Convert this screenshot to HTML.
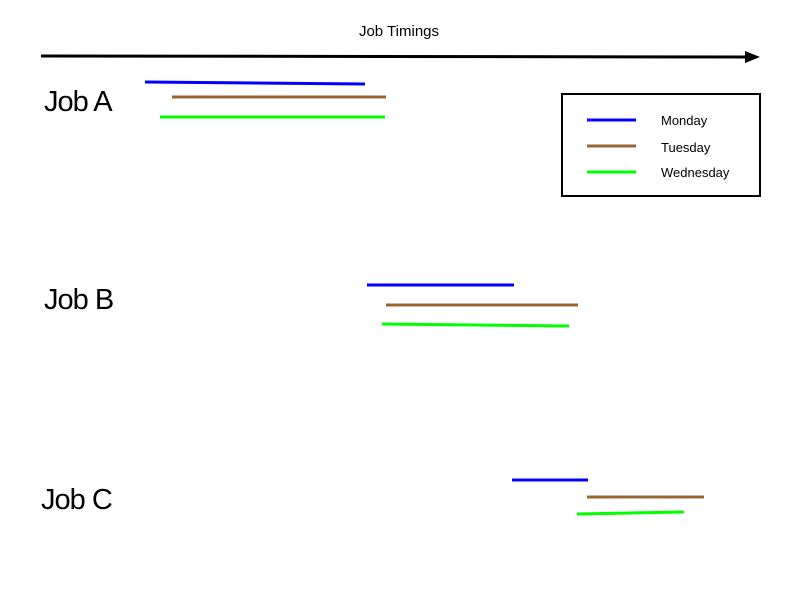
<!DOCTYPE html>
<html><head><style>body{margin:0;background:#fff}</style></head><body>
<svg width="800" height="600" xmlns="http://www.w3.org/2000/svg" font-family="'Liberation Sans', sans-serif">
<rect width="800" height="600" fill="#fff"/>
<text x="399" y="36" font-size="15" text-anchor="middle">Job Timings</text>
<line x1="41" y1="56" x2="748" y2="57" stroke="#000" stroke-width="3"/>
<polygon points="760,57 745,51 745,63" fill="#000"/>
<text x="44" y="111" font-size="29" letter-spacing="-1">Job A</text>
<text x="44" y="309" font-size="29" letter-spacing="-1">Job B</text>
<text x="41" y="509" font-size="29" letter-spacing="-1">Job C</text>
<g stroke-width="3">
<line x1="145" y1="82" x2="365" y2="84" stroke="#0000ff"/>
<line x1="172" y1="97" x2="386" y2="97" stroke="#996633"/>
<line x1="160" y1="117" x2="385" y2="117" stroke="#00ff00"/>
<line x1="367" y1="285" x2="514" y2="285" stroke="#0000ff"/>
<line x1="386" y1="305" x2="578" y2="305" stroke="#996633"/>
<line x1="382" y1="324" x2="569" y2="326" stroke="#00ff00"/>
<line x1="512" y1="480" x2="588" y2="480" stroke="#0000ff"/>
<line x1="587" y1="497" x2="704" y2="497" stroke="#996633"/>
<line x1="577" y1="514" x2="684" y2="512" stroke="#00ff00"/>
<line x1="587" y1="120" x2="636" y2="120" stroke="#0000ff"/>
<line x1="587" y1="146" x2="636" y2="146" stroke="#996633"/>
<line x1="587" y1="172" x2="636" y2="172" stroke="#00ff00"/>
</g>
<rect x="562" y="94" width="198" height="102" fill="none" stroke="#000" stroke-width="2"/>
<text x="661" y="125" font-size="13">Monday</text>
<text x="661" y="152" font-size="13">Tuesday</text>
<text x="661" y="177" font-size="13">Wednesday</text>
</svg>
</body></html>
